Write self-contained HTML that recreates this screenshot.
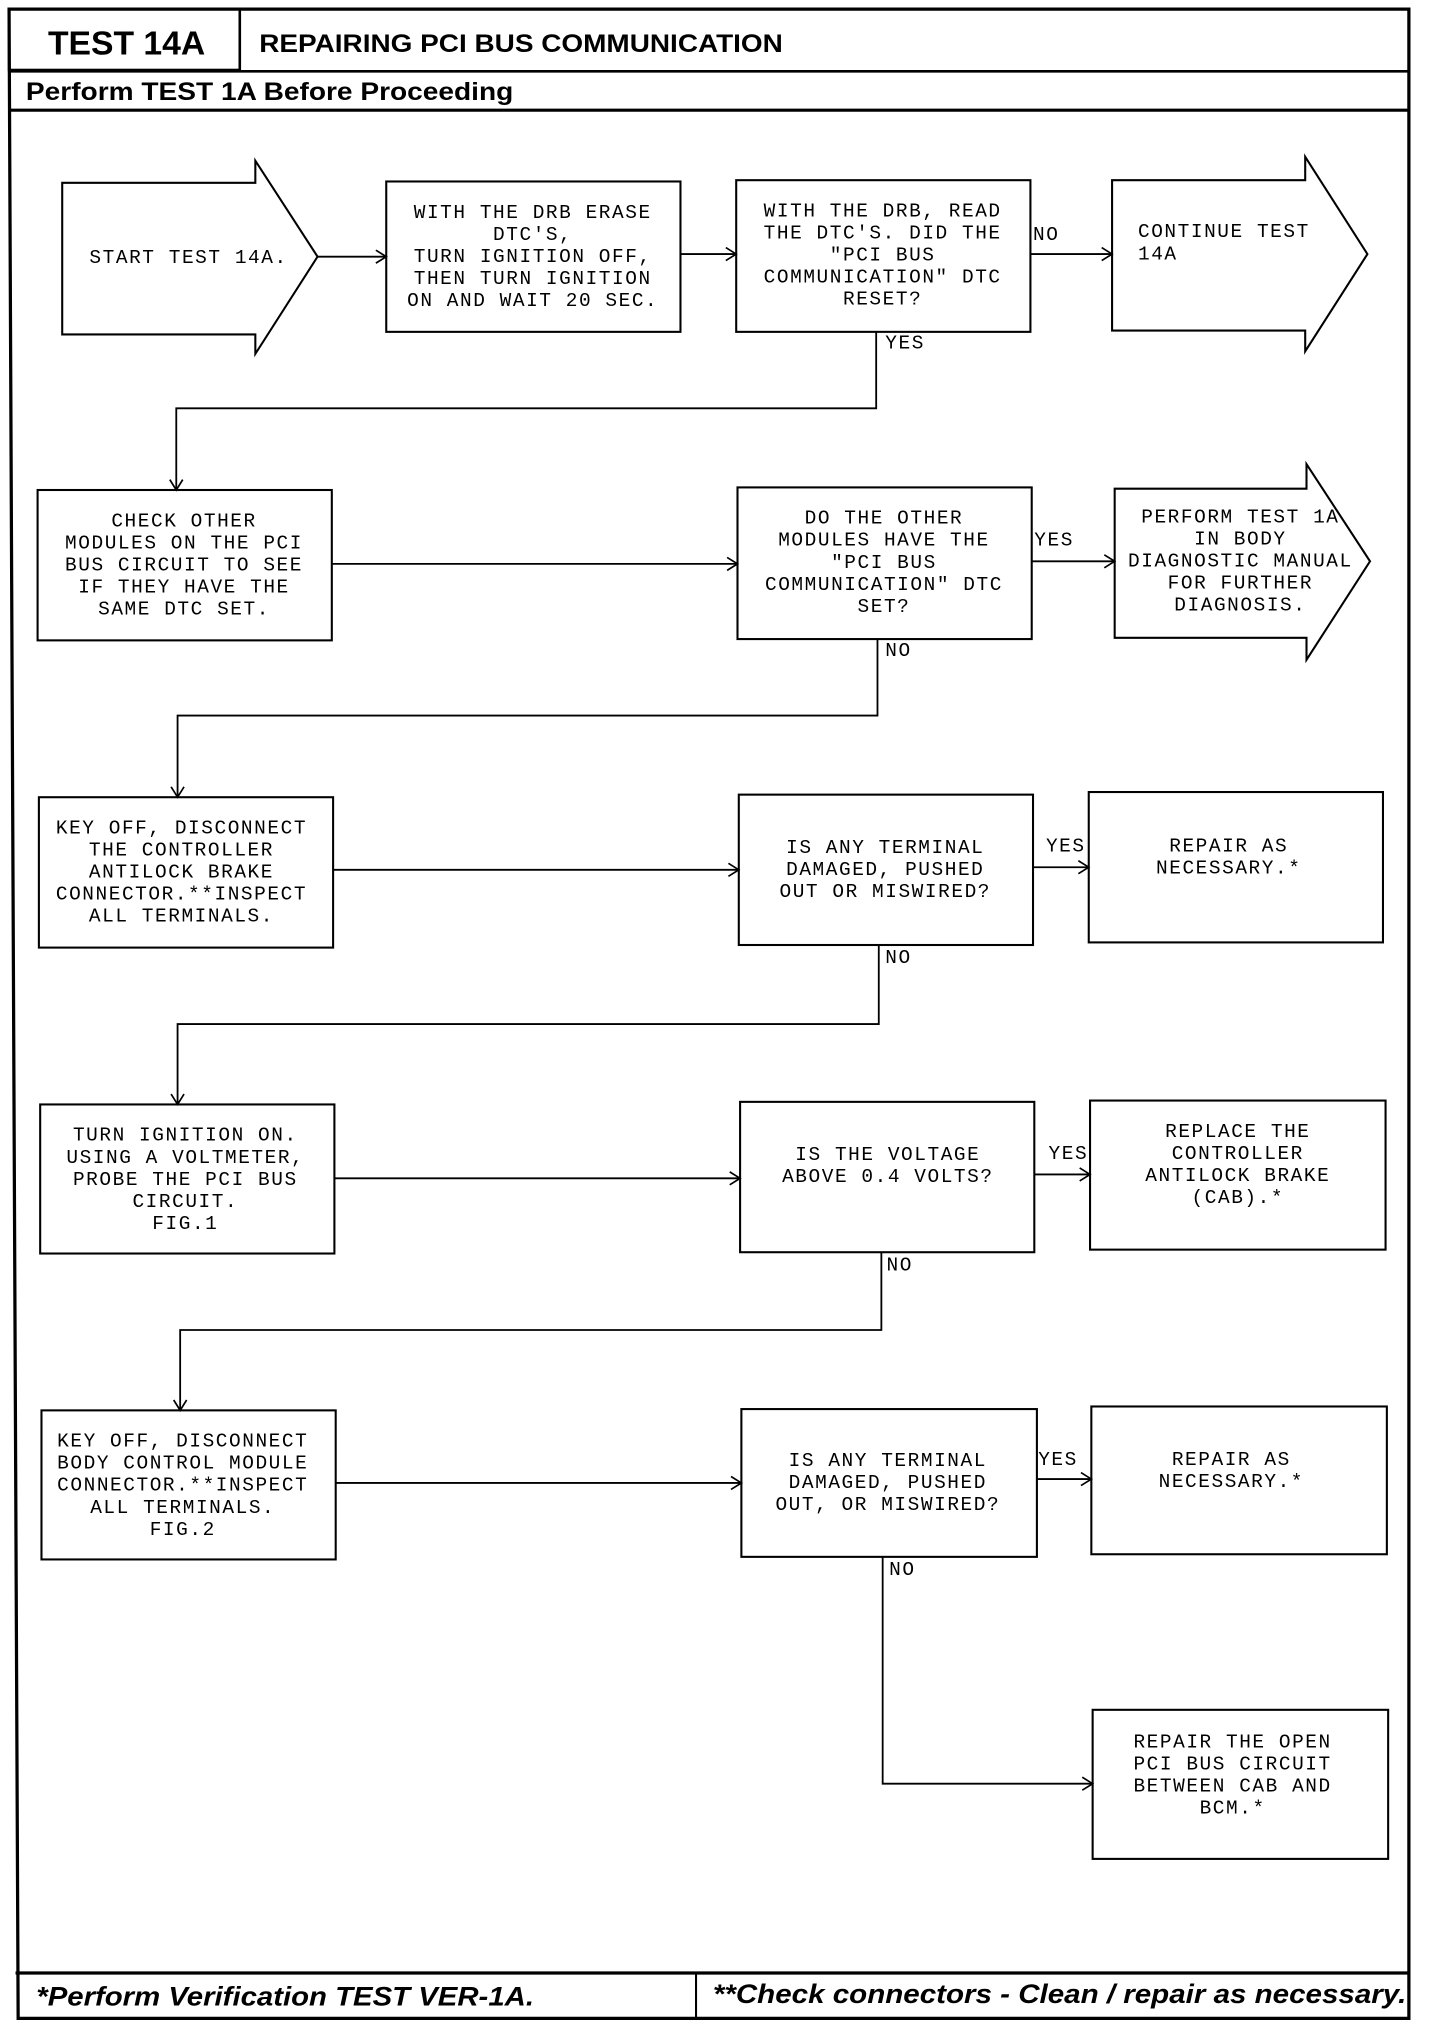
<!DOCTYPE html>
<html><head><meta charset="utf-8"><style>
html,body{margin:0;padding:0;background:#fff;}
svg{display:block;}
.m{font-family:"Liberation Mono",monospace;font-size:15px;letter-spacing:1.2px;fill:#000;}
.c{text-anchor:middle;}
.b{fill:none;stroke:#000;stroke-width:1.6;}
.l{fill:none;stroke:#000;stroke-width:1.4;}
</style></head><body>
<svg width="1440" height="2030" viewBox="0 0 1111 1566" preserveAspectRatio="none" xmlns="http://www.w3.org/2000/svg">
<defs><marker id="a" markerWidth="12" markerHeight="12" refX="10" refY="6" orient="auto" markerUnits="userSpaceOnUse"><path d="M2,1 L10,6 L2,11" fill="none" stroke="#000" stroke-width="1.3"/></marker></defs>
<path d="M7,7 L1087,7 L1087,1557 L14,1557 Z" fill="none" stroke="#000" stroke-width="2.5"/>
<rect x="7" y="7" width="178" height="47" fill="none" stroke="#000" stroke-width="2"/>
<line x1="7" y1="55" x2="1087" y2="55" stroke="#000" stroke-width="2"/>
<line x1="7" y1="85" x2="1087" y2="85" stroke="#000" stroke-width="2.5"/>
<line x1="12" y1="1522" x2="1087" y2="1522" stroke="#000" stroke-width="2.5"/>
<line x1="537" y1="1522" x2="537" y2="1557" stroke="#000" stroke-width="1.6"/>
<text x="37" y="42" font-family="Liberation Sans,sans-serif" font-weight="bold" font-size="26">TEST 14A</text>
<text x="200" y="40" font-family="Liberation Sans,sans-serif" font-weight="bold" font-size="19" textLength="404" lengthAdjust="spacingAndGlyphs">REPAIRING PCI BUS COMMUNICATION</text>
<text x="20" y="77" font-family="Liberation Sans,sans-serif" font-weight="bold" font-size="19" textLength="376" lengthAdjust="spacingAndGlyphs">Perform TEST 1A Before Proceeding</text>
<text x="28" y="1547" font-family="Liberation Sans,sans-serif" font-weight="bold" font-style="italic" font-size="21" textLength="384" lengthAdjust="spacingAndGlyphs">*Perform Verification TEST VER-1A.</text>
<text x="550" y="1545" font-family="Liberation Sans,sans-serif" font-weight="bold" font-style="italic" font-size="21" textLength="535" lengthAdjust="spacingAndGlyphs">**Check connectors - Clean / repair as necessary.</text>

<path class="b" d="M48,141 L197,141 L197,124 L245,198 L197,273 L197,258 L48,258 Z"/>
<text class="m" x="69" y="203">START TEST 14A.</text>
<rect class="b" x="298" y="140" width="227" height="116"/>
<text class="m c"><tspan x="411" y="168">WITH THE DRB ERASE</tspan><tspan x="411" y="185">DTC'S,</tspan><tspan x="411" y="202">TURN IGNITION OFF,</tspan><tspan x="411" y="219">THEN TURN IGNITION</tspan><tspan x="411" y="236">ON AND WAIT 20 SEC.</tspan></text>
<rect class="b" x="568" y="139" width="227" height="117"/>
<text class="m c"><tspan x="681" y="167">WITH THE DRB, READ</tspan><tspan x="681" y="184">THE DTC'S. DID THE</tspan><tspan x="681" y="201">"PCI BUS</tspan><tspan x="681" y="218">COMMUNICATION" DTC</tspan><tspan x="681" y="235">RESET?</tspan></text>
<path class="b" d="M858,139 L1007,139 L1007,121 L1055,196 L1007,271 L1007,255 L858,255 Z"/>
<text class="m"><tspan x="878" y="183">CONTINUE TEST</tspan><tspan x="878" y="200">14A</tspan></text>
<line class="l" x1="245" y1="198" x2="298" y2="198" marker-end="url(#a)"/>
<line class="l" x1="525" y1="196" x2="568" y2="196" marker-end="url(#a)"/>
<line class="l" x1="795" y1="196" x2="858" y2="196" marker-end="url(#a)"/>
<text class="m" x="797" y="185">NO</text>
<text class="m" x="683" y="269">YES</text>
<polyline class="l" points="676,256 676,315 136,315 136,378" marker-end="url(#a)"/>

<rect class="b" x="29" y="378" width="227" height="116"/>
<text class="m c"><tspan x="142" y="406">CHECK OTHER</tspan><tspan x="142" y="423">MODULES ON THE PCI</tspan><tspan x="142" y="440">BUS CIRCUIT TO SEE</tspan><tspan x="142" y="457">IF THEY HAVE THE</tspan><tspan x="142" y="474">SAME DTC SET.</tspan></text>
<rect class="b" x="569" y="376" width="227" height="117"/>
<text class="m c"><tspan x="682" y="404">DO THE OTHER</tspan><tspan x="682" y="421">MODULES HAVE THE</tspan><tspan x="682" y="438">"PCI BUS</tspan><tspan x="682" y="455">COMMUNICATION" DTC</tspan><tspan x="682" y="472">SET?</tspan></text>
<path class="b" d="M860,377 L1008,377 L1008,358 L1057,433 L1008,509 L1008,492 L860,492 Z"/>
<text class="m c"><tspan x="957" y="403">PERFORM TEST 1A</tspan><tspan x="957" y="420">IN BODY</tspan><tspan x="957" y="437">DIAGNOSTIC MANUAL</tspan><tspan x="957" y="454">FOR FURTHER</tspan><tspan x="957" y="471">DIAGNOSIS.</tspan></text>
<line class="l" x1="256" y1="435" x2="569" y2="435" marker-end="url(#a)"/>
<line class="l" x1="796" y1="433" x2="860" y2="433" marker-end="url(#a)"/>
<text class="m" x="798" y="421">YES</text>
<text class="m" x="683" y="506">NO</text>
<polyline class="l" points="677,493 677,552 137,552 137,615" marker-end="url(#a)"/>

<rect class="b" x="30" y="615" width="227" height="116"/>
<text class="m c"><tspan x="140" y="643">KEY OFF, DISCONNECT</tspan><tspan x="140" y="660">THE CONTROLLER</tspan><tspan x="140" y="677">ANTILOCK BRAKE</tspan><tspan x="140" y="694">CONNECTOR.**INSPECT</tspan><tspan x="140" y="711">ALL TERMINALS.</tspan></text>
<rect class="b" x="570" y="613" width="227" height="116"/>
<text class="m c"><tspan x="683" y="658">IS ANY TERMINAL</tspan><tspan x="683" y="675">DAMAGED, PUSHED</tspan><tspan x="683" y="692">OUT OR MISWIRED?</tspan></text>
<rect class="b" x="840" y="611" width="227" height="116"/>
<text class="m c"><tspan x="948" y="657">REPAIR AS</tspan><tspan x="948" y="674">NECESSARY.*</tspan></text>
<line class="l" x1="257" y1="671" x2="570" y2="671" marker-end="url(#a)"/>
<line class="l" x1="797" y1="669" x2="840" y2="669" marker-end="url(#a)"/>
<text class="m" x="807" y="657">YES</text>
<text class="m" x="683" y="743">NO</text>
<polyline class="l" points="678,729 678,790 137,790 137,852" marker-end="url(#a)"/>

<rect class="b" x="31" y="852" width="227" height="115"/>
<text class="m c"><tspan x="143" y="880">TURN IGNITION ON.</tspan><tspan x="143" y="897">USING A VOLTMETER,</tspan><tspan x="143" y="914">PROBE THE PCI BUS</tspan><tspan x="143" y="931">CIRCUIT.</tspan><tspan x="143" y="948">FIG.1</tspan></text>
<rect class="b" x="571" y="850" width="227" height="116"/>
<text class="m c"><tspan x="685" y="895">IS THE VOLTAGE</tspan><tspan x="685" y="912">ABOVE 0.4 VOLTS?</tspan></text>
<rect class="b" x="841" y="849" width="228" height="115"/>
<text class="m c"><tspan x="955" y="877">REPLACE THE</tspan><tspan x="955" y="894">CONTROLLER</tspan><tspan x="955" y="911">ANTILOCK BRAKE</tspan><tspan x="955" y="928">(CAB).*</tspan></text>
<line class="l" x1="258" y1="909" x2="571" y2="909" marker-end="url(#a)"/>
<line class="l" x1="798" y1="906" x2="841" y2="906" marker-end="url(#a)"/>
<text class="m" x="809" y="894">YES</text>
<text class="m" x="684" y="980">NO</text>
<polyline class="l" points="680,966 680,1026 139,1026 139,1088" marker-end="url(#a)"/>

<rect class="b" x="32" y="1088" width="227" height="115"/>
<text class="m c"><tspan x="141" y="1116">KEY OFF, DISCONNECT</tspan><tspan x="141" y="1133">BODY CONTROL MODULE</tspan><tspan x="141" y="1150">CONNECTOR.**INSPECT</tspan><tspan x="141" y="1167">ALL TERMINALS.</tspan><tspan x="141" y="1184">FIG.2</tspan></text>
<rect class="b" x="572" y="1087" width="228" height="114"/>
<text class="m c"><tspan x="685" y="1131">IS ANY TERMINAL</tspan><tspan x="685" y="1148">DAMAGED, PUSHED</tspan><tspan x="685" y="1165">OUT, OR MISWIRED?</tspan></text>
<rect class="b" x="842" y="1085" width="228" height="114"/>
<text class="m c"><tspan x="950" y="1130">REPAIR AS</tspan><tspan x="950" y="1147">NECESSARY.*</tspan></text>
<line class="l" x1="259" y1="1144" x2="572" y2="1144" marker-end="url(#a)"/>
<line class="l" x1="800" y1="1141" x2="842" y2="1141" marker-end="url(#a)"/>
<text class="m" x="801" y="1130">YES</text>
<text class="m" x="686" y="1215">NO</text>
<polyline class="l" points="681,1201 681,1376 843,1376" marker-end="url(#a)"/>
<rect class="b" x="843" y="1319" width="228" height="115"/>
<text class="m c"><tspan x="951" y="1348">REPAIR THE OPEN</tspan><tspan x="951" y="1365">PCI BUS CIRCUIT</tspan><tspan x="951" y="1382">BETWEEN CAB AND</tspan><tspan x="951" y="1399">BCM.*</tspan></text>
</svg>
</body></html>
